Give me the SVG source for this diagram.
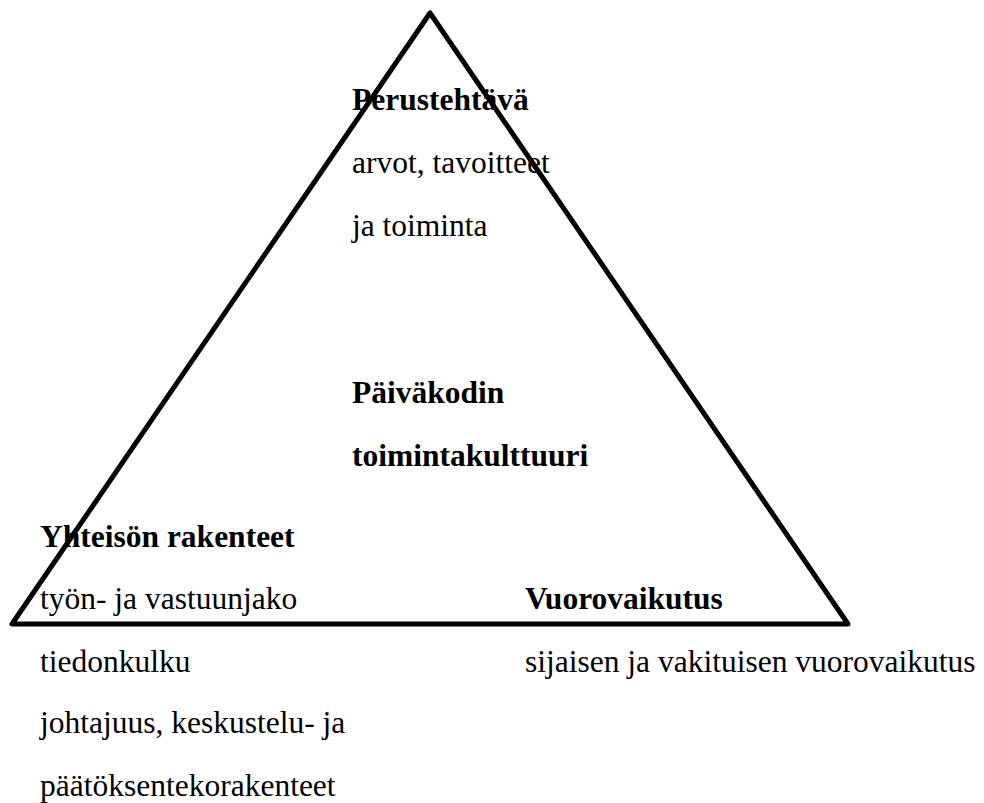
<svg xmlns="http://www.w3.org/2000/svg" width="984" height="803" viewBox="0 0 984 803">
<style>
text{font-size:31.5px;fill:#000}
.b{font-weight:bold}
</style>
<rect width="984" height="803" fill="#fff"/>
<g id="connectors">
<polygon points="430,13 12,624 848,624" fill="none" stroke="#000" stroke-width="5" stroke-linejoin="round"/>
</g>
<g font-family="Liberation Serif, DejaVu Serif, serif">
<g id="perustehtava">
<text x="352" y="110" class="b">Perustehtävä</text>
<text x="352" y="173">arvot, tavoitteet</text>
<text x="352" y="236">ja toiminta</text>
</g>
<g id="toimintakulttuuri">
<text x="352" y="403" class="b">Päiväkodin</text>
<text x="352" y="466" class="b">toimintakulttuuri</text>
</g>
<g id="rakenteet">
<text x="40" y="547" class="b">Yhteisön rakenteet</text>
<text x="40" y="609">työn- ja vastuunjako</text>
<text x="40" y="672">tiedonkulku</text>
<text x="40" y="733">johtajuus, keskustelu- ja</text>
<text x="40" y="796">päätöksentekorakenteet</text>
</g>
<g id="vuorovaikutus">
<text x="525" y="609" class="b">Vuorovaikutus</text>
<text x="525" y="672">sijaisen ja vakituisen vuorovaikutus</text>
</g>
</g>
</svg>
